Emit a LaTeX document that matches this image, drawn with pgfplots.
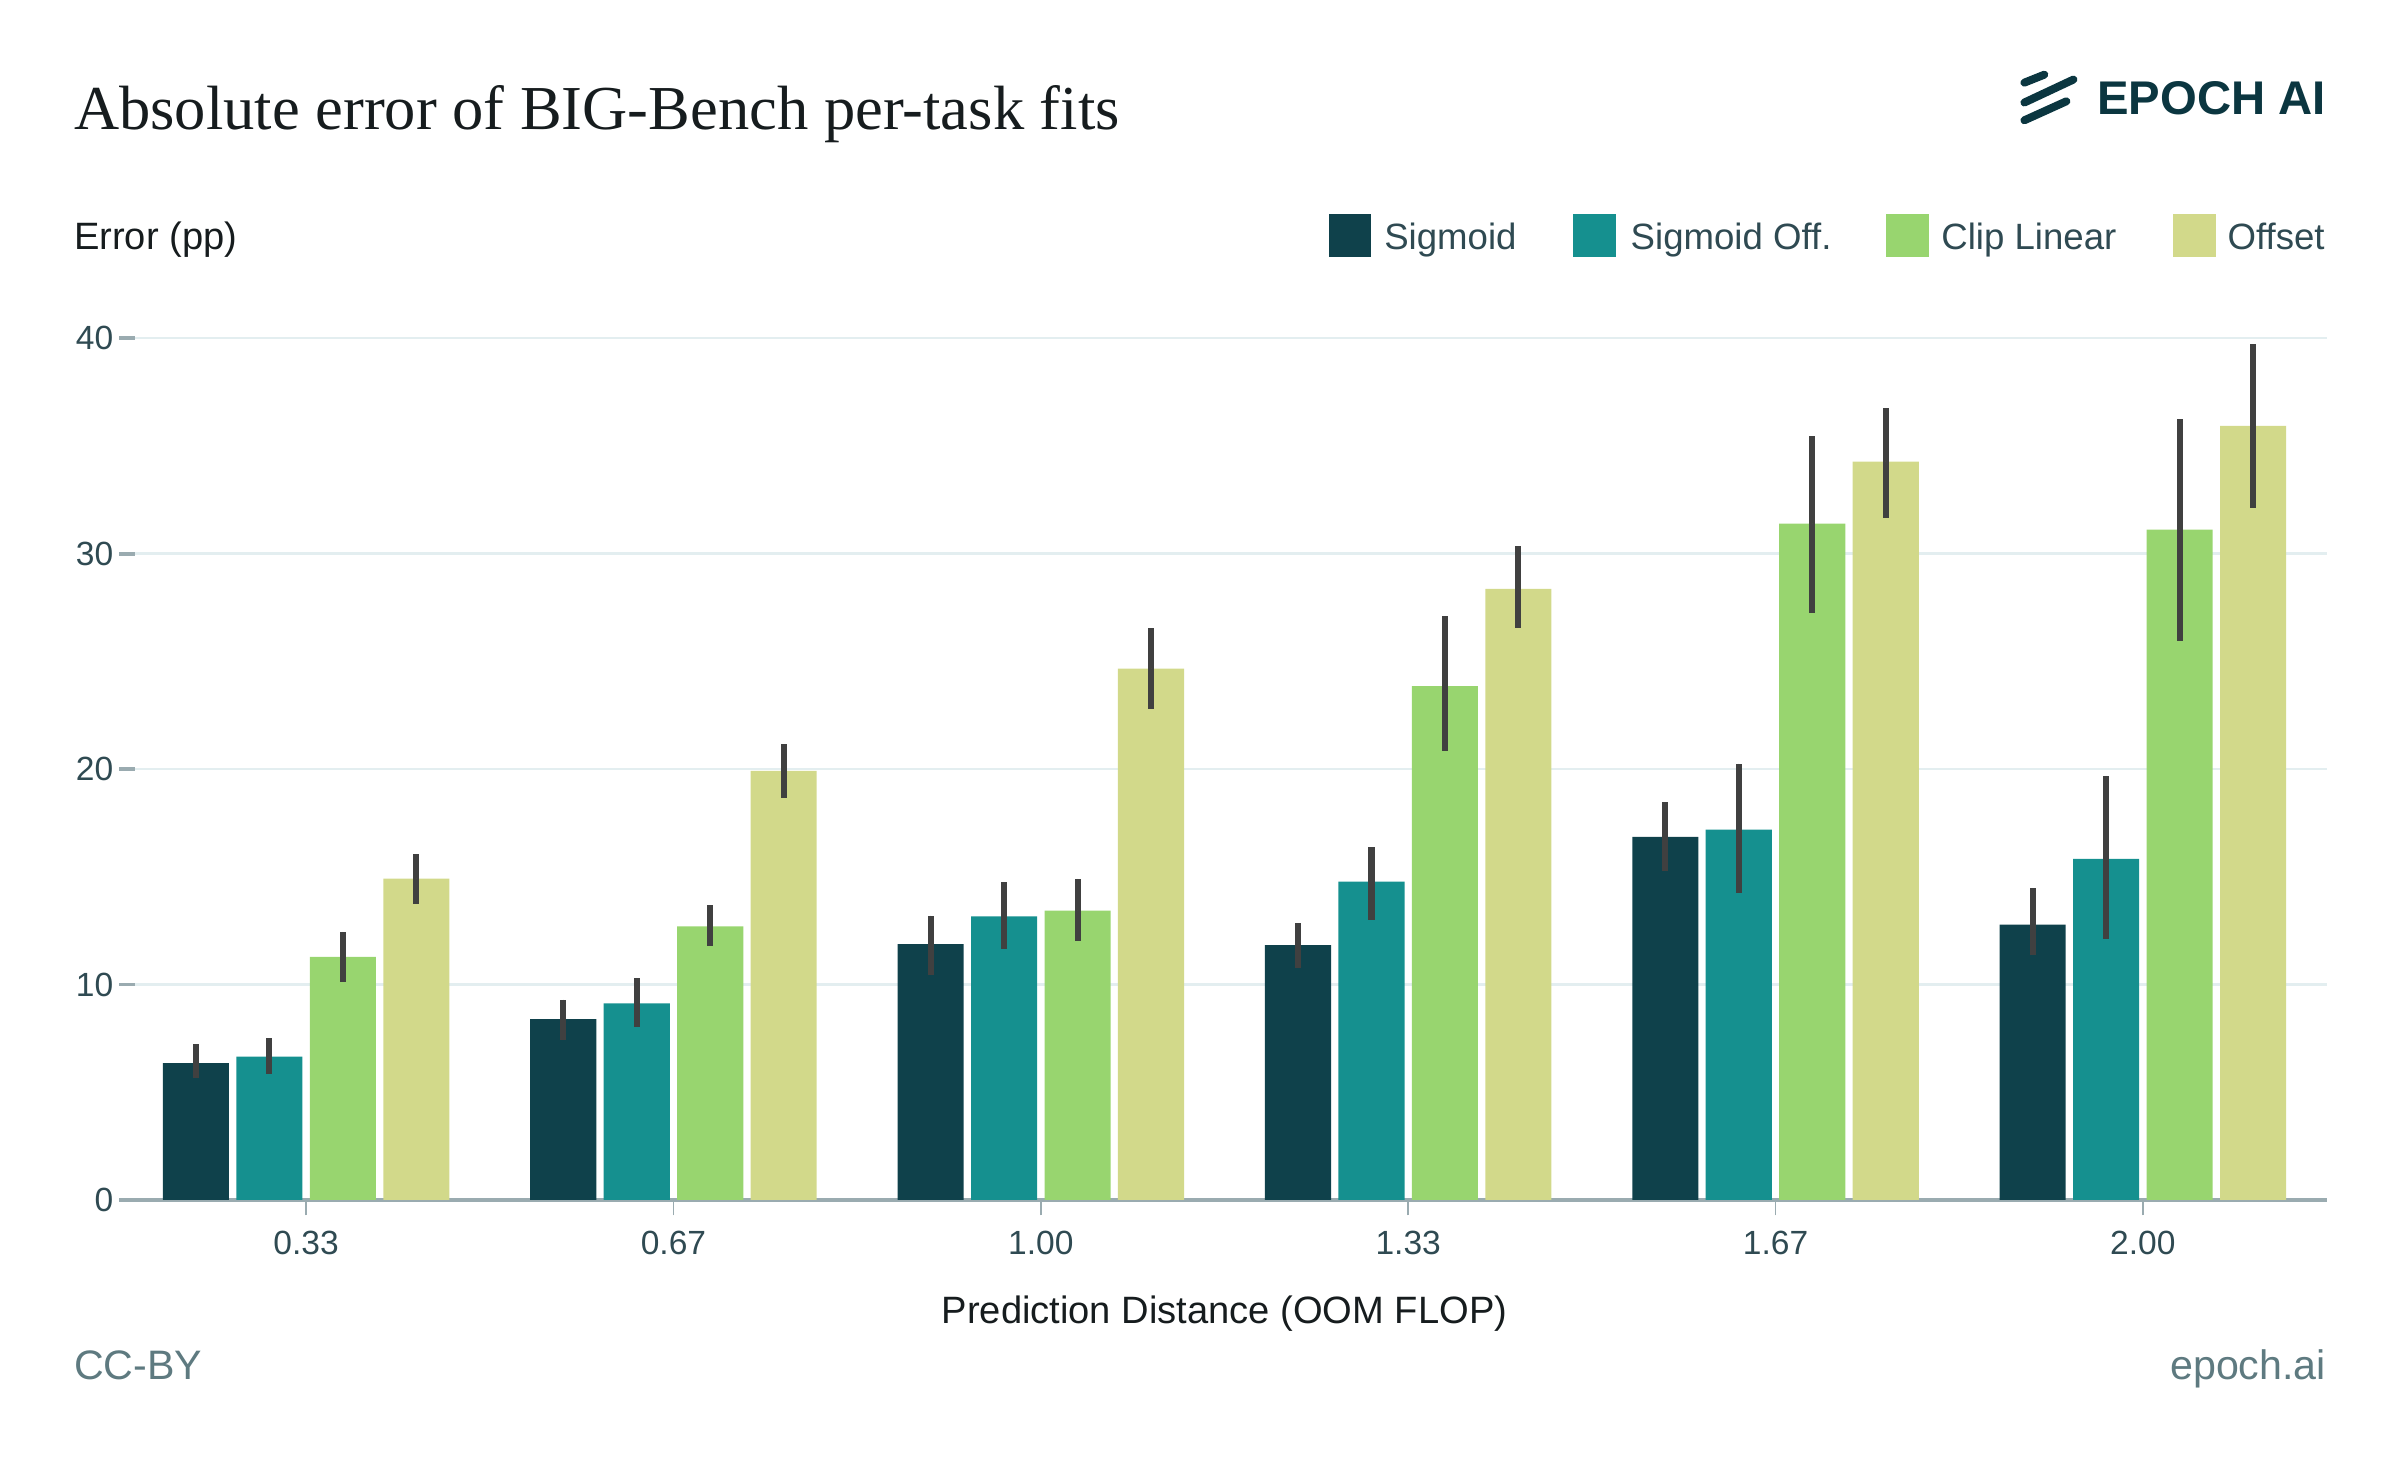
\documentclass[border=0pt]{standalone}
\usepackage{fontspec}
\setmainfont{Liberation Sans}
\newfontfamily\titlefont{Liberation Serif}
\usepackage{pgfplots}
\usepackage{pgfplotstable}
\pgfplotsset{compat=1.18}
\definecolor{cSig}{HTML}{0F414B}
\definecolor{cSigOff}{HTML}{15908F}
\definecolor{cClip}{HTML}{98D56F}
\definecolor{cOff}{HTML}{D2D98A}
\definecolor{cErr}{HTML}{404040}
\definecolor{cGrid}{HTML}{E3EEF0}
\definecolor{cAxis}{HTML}{9AABB0}
\definecolor{cTick}{HTML}{2F4A52}
\definecolor{cText}{HTML}{161C1E}
\definecolor{cFoot}{HTML}{5E7A80}
\definecolor{cLogo}{HTML}{0B3640}

\pgfplotstableread{
x y ep em
0 6.35 0.87 0.70
1 8.40 0.90 0.96
2 11.88 1.32 1.43
3 11.83 1.01 1.07
4 16.85 1.61 1.60
5 12.78 1.69 1.43
}\sigmoid
\pgfplotstableread{
x y ep em
0 6.66 0.84 0.82
1 9.13 1.18 1.12
2 13.17 1.58 1.51
3 14.78 1.60 1.78
4 17.19 3.06 2.92
5 15.84 3.85 3.71
}\sigmoidoff
\pgfplotstableread{
x y ep em
0 11.29 1.15 1.15
1 12.70 0.98 0.93
2 13.43 1.49 1.41
3 23.85 3.25 3.01
4 31.40 4.05 4.15
5 31.12 5.12 5.16
}\cliplinear
\pgfplotstableread{
x y ep em
0 14.92 1.15 1.16
1 19.92 1.23 1.27
2 24.66 1.88 1.88
3 28.37 1.97 1.83
4 34.27 2.47 2.61
5 35.93 3.79 3.80
}\offset

\begin{document}
\begin{tikzpicture}
\useasboundingbox (0,-2.2bp) rectangle (784bp,477bp);
\begin{axis}[
  at={(40bp,85bp)}, anchor=south west,
  scale only axis, width=720bp, height=281.5bp,
  xmin=-0.5, xmax=5.5, ymin=0, ymax=40,
  clip=false,
  axis lines=left,
  axis line style={-},
  y axis line style={draw=none},
  x axis line style={draw=cAxis, line width=1.3bp},
  tick align=outside,
  major tick length=5bp,
  xtick={0,1,2,3,4,5},
  xticklabels={0.33,0.67,1.00,1.33,1.67,2.00},
  xtick style={draw=cAxis, line width=0.6bp},
  ytick={0,10,20,30,40},
  ytick style={draw=cAxis, line width=1.2bp, xshift=4bp},
  ymajorgrids,
  grid style={draw=cGrid, line width=0.8bp},
  /pgf/number format/assume math mode=true,
  tick label style={font=\fontsize{11}{13}\selectfont, text=cTick},
  xticklabel style={yshift=-1.5bp},
  yticklabel style={xshift=5.5bp},
  xlabel={Prediction Distance (OOM FLOP)},
  xlabel style={at={(axis description cs:0.5,0)}, anchor=center, yshift=-37bp,
    font=\fontsize{12.5}{14}\selectfont, text=cText},
  ylabel={Error (pp)},
  ylabel style={rotate=-90, at={(axis description cs:-0.0222,1.1030)}, anchor=base west,
    inner sep=0pt, font=\fontsize{12.5}{14}\selectfont, text=cText},
  title={Absolute error of BIG-Bench per-task fits},
  every axis title/.style={at={(axis description cs:-0.0222,1.2420)}, anchor=base west,
    inner sep=0pt, font=\titlefont\fontsize{20.5}{24}\selectfont, text=cText},
  every axis plot/.append style={ybar, bar width=0.18, bar shift=0pt, draw=none},
  error bars/error bar style={draw=cErr, line width=2bp},
  error bars/error mark=none,
]
\addplot[fill=cSig,
  error bars/.cd, y dir=both, y explicit]
  table[x expr=\thisrow{x}-0.3, y=y, y error plus=ep, y error minus=em] {\sigmoid};
\addplot[fill=cSigOff,
  error bars/.cd, y dir=both, y explicit]
  table[x expr=\thisrow{x}-0.1, y=y, y error plus=ep, y error minus=em] {\sigmoidoff};
\addplot[fill=cClip,
  error bars/.cd, y dir=both, y explicit]
  table[x expr=\thisrow{x}+0.1, y=y, y error plus=ep, y error minus=em] {\cliplinear};
\addplot[fill=cOff,
  error bars/.cd, y dir=both, y explicit]
  table[x expr=\thisrow{x}+0.3, y=y, y error plus=ep, y error minus=em] {\offset};
\end{axis}

% legend
\fill[cSig] (434bp,393bp) rectangle ++(14bp,14bp);
\node[anchor=base west, inner sep=0pt, text=cTick, font=\fontsize{12}{14}\selectfont] at (452bp,395.5bp) {Sigmoid};
\fill[cSigOff] (514bp,393bp) rectangle ++(14bp,14bp);
\node[anchor=base west, inner sep=0pt, text=cTick, font=\fontsize{12}{14}\selectfont] at (532.5bp,395.5bp) {Sigmoid Off.};
\fill[cClip] (616bp,393bp) rectangle ++(14bp,14bp);
\node[anchor=base west, inner sep=0pt, text=cTick, font=\fontsize{12}{14}\selectfont] at (634bp,395.5bp) {Clip Linear};
\fill[cOff] (710bp,393bp) rectangle ++(14bp,14bp);
\node[anchor=base west, inner sep=0pt, text=cTick, font=\fontsize{12}{14}\selectfont] at (727.5bp,395.5bp) {Offset};

% logo
\draw[cLogo, line width=2.6bp, line cap=round] (661.3bp,450.0bp) -- (667.8bp,452.6bp);
\draw[cLogo, line width=2.6bp, line cap=round] (661.3bp,443.5bp) -- (677.3bp,451.0bp);
\draw[cLogo, line width=2.6bp, line cap=round] (661.3bp,437.7bp) -- (675.0bp,443.9bp);
\node[anchor=base east, inner sep=0pt, text=cLogo, font=\bfseries\fontsize{15.5}{17}\selectfont] at (760bp,439.6bp) {EPOCH AI};

% footer
\node[anchor=base west, inner sep=0pt, text=cFoot, font=\fontsize{13.5}{16}\selectfont] at (24bp,26.5bp) {CC-BY};
\node[anchor=base east, inner sep=0pt, text=cFoot, font=\fontsize{13.5}{16}\selectfont] at (760bp,26.5bp) {epoch.ai};
\end{tikzpicture}
\end{document}
